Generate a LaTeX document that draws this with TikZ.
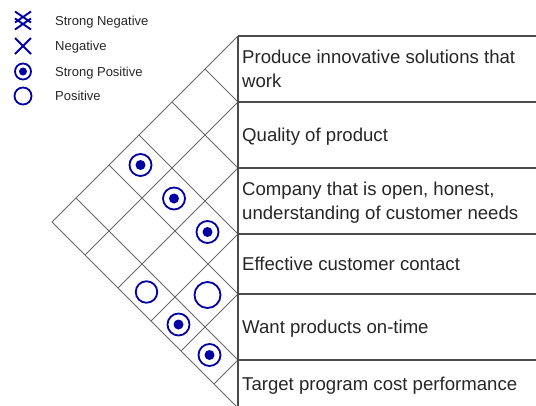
\documentclass[tikz,border=0pt]{standalone}
\usepackage{fontspec}
\setmainfont{Liberation Sans}
\definecolor{qfdblue}{RGB}{0,0,165}
\definecolor{gridgray}{RGB}{105,105,105}
\definecolor{wallgray}{RGB}{75,75,75}
\begin{document}
\begin{tikzpicture}[x=1pt,y=-1pt,
  gridline/.style={draw=gridgray, line width=0.9pt},
  wallline/.style={draw=wallgray, line width=1.4pt},
  rowlabel/.style={anchor=base west, inner sep=0pt, align=left,
    font=\fontsize{18.6}{24}\selectfont, text=black!85},
  legtext/.style={anchor=base west, inner sep=0pt,
    font=\fontsize{13}{15}\selectfont, text=black!85},
  sym/.style={draw=qfdblue, line width=1.9pt},
  posmark/.style={circle, draw=qfdblue, line width=1.8pt, inner sep=0pt, minimum size=#1},
  strongmark/.style={circle, draw=qfdblue, line width=1.8pt, inner sep=0pt, minimum size=22pt,
    path picture={\fill[qfdblue] (path picture bounding box.center) circle (5pt);}},
]
\useasboundingbox (0,0) rectangle (536,405);
\clip (0,0) rectangle (536,405);

% wall points at row boundaries
\foreach \i/\y in {0/36,1/102,2/168,3/234,4/294,5/360,6/408}{
  \coordinate (b\i) at (238,\y);
  \coordinate (r\i) at (540,\y);
}
\coordinate (apex) at (52,222);

% roof grid
\draw[gridline] (b0) -- (apex) -- (b6);
\foreach \i/\y in {1/102,2/168,3/234,4/294,5/360}{
  \coordinate (lo\i) at ({238-(408-\y)/2},{(\y+408)/2});
  \coordinate (up\i) at ({238-(\y-36)/2},{(\y+36)/2});
  \draw[gridline] (up\i) -- (b\i) -- (lo\i);
}

% wall and row lines
\draw[wallline] (b0) -- (b6);
\foreach \i in {0,...,6}{ \draw[wallline] (b\i) -- (r\i); }

% row labels (base anchor of a two-line node is its last line)
\node[rowlabel] (t1) at (242,87) {Produce innovative solutions that\\work};
\node[rowlabel] (t2) at (242,141.7) {Quality of product};
\node[rowlabel] (t3) at (242,219.7) {Company that is open, honest,\\understanding of customer needs};
\node[rowlabel] (t4) at (242,270.7) {Effective customer contact};
\node[rowlabel] (t5) at (242,333.7) {Want products on-time};
\node[rowlabel] (t6) at (242,390.7) {Target program cost performance};

% correlation symbols
\node[strongmark] (c14) at (140.5,165) {};
\node[strongmark] (c24) at (174,198.5) {};
\node[strongmark] (c34) at (207.5,232) {};
\node[posmark=21.5pt] (c36) at (146.5,292) {};
\node[posmark=26pt] (c45) at (207.5,295) {};
\node[strongmark] (c46) at (178.5,324.5) {};
\node[strongmark] (c56) at (209.5,355) {};

% legend
\coordinate (lsn) at (23,20.5);
\coordinate (ln) at (23,46);
\coordinate (lsp) at (23,71.5);
\coordinate (lp) at (23,96);
\draw[sym] ([shift={(-8,-9)}]lsn) -- ([shift={(8,2)}]lsn)
           ([shift={(8,-9)}]lsn) -- ([shift={(-8,2)}]lsn)
           ([shift={(-8,-2)}]lsn) -- ([shift={(8,9)}]lsn)
           ([shift={(8,-2)}]lsn) -- ([shift={(-8,9)}]lsn);
\draw[sym] ([shift={(-8,-8)}]ln) -- ([shift={(8,8)}]ln)
           ([shift={(8,-8)}]ln) -- ([shift={(-8,8)}]ln);
\node[circle, draw=qfdblue, line width=1.8pt, inner sep=0pt, minimum size=16pt,
  path picture={\fill[qfdblue] (path picture bounding box.center) circle (4pt);}] (lspc) at (lsp) {};
\node[posmark=17pt] (lpc) at (lp) {};

\node[legtext] (lt1) at (55,25) {Strong Negative};
\node[legtext] (lt2) at (55,50.5) {Negative};
\node[legtext] (lt3) at (55,76) {Strong Positive};
\node[legtext] (lt4) at (55,100.5) {Positive};
\end{tikzpicture}
\end{document}
